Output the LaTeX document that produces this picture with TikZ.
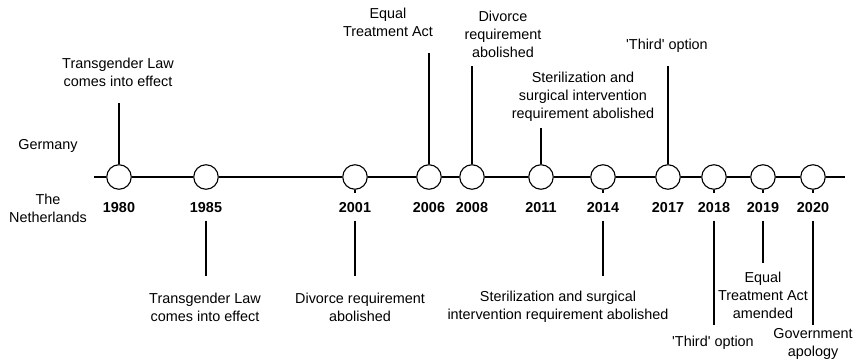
\documentclass[tikz,border=0pt]{standalone}
\usepackage{fontspec}
\setmainfont{Liberation Sans}
\newcommand{\tlfont}{\fontsize{14.4}{18}\selectfont}
\begin{document}
\begin{tikzpicture}[x=1pt, y=-1pt, line width=1.1pt,
    yr/.style={circle, draw, fill=white, minimum size=24.5pt, inner sep=0pt},
    yrlabel/.style={font=\tlfont\bfseries, text height=10.5pt, text depth=0pt, inner xsep=2pt, inner ysep=7.75pt},
    txt/.style={font=\tlfont, align=center, inner sep=0pt}]
    \useasboundingbox (0,0) rectangle (855,364);
    % axis ends
    \coordinate (axl) at (94,177);
    \coordinate (axr) at (845,177);
    % year circles
    \node[yr] (c1980) at (119,177) {};
    \node[yr] (c1985) at (206,177) {};
    \node[yr] (c2001) at (355,177) {};
    \node[yr] (c2006) at (429,177) {};
    \node[yr] (c2008) at (472,177) {};
    \node[yr] (c2011) at (541,177) {};
    \node[yr] (c2014) at (603,177) {};
    \node[yr] (c2017) at (668,177) {};
    \node[yr] (c2018) at (714,177) {};
    \node[yr] (c2019) at (763,177) {};
    \node[yr] (c2020) at (813,177) {};
    \draw (axl) -- (c1980) -- (c1985) -- (c2001) -- (c2006) -- (c2008) -- (c2011)
        -- (c2014) -- (c2017) -- (c2018) -- (c2019) -- (c2020) -- (axr);
    % year labels
    \node[yrlabel] (y1980) at (119,207) {1980};
    \node[yrlabel] (y1985) at (206,207) {1985};
    \node[yrlabel] (y2001) at (355,207) {2001};
    \node[yrlabel] (y2006) at (429,207) {2006};
    \node[yrlabel] (y2008) at (472,207) {2008};
    \node[yrlabel] (y2011) at (541,207) {2011};
    \node[yrlabel] (y2014) at (603,207) {2014};
    \node[yrlabel] (y2017) at (668,207) {2017};
    \node[yrlabel] (y2018) at (714,207) {2018};
    \node[yrlabel] (y2019) at (763,207) {2019};
    \node[yrlabel] (y2020) at (813,207) {2020};
    % countries
    \node[txt] (germany) at (48,146) {Germany};
    \node[txt] (nl) at (48,208) {The\\Netherlands};
    % Germany events
    \node[txt] (g1980) at (118,72) {Transgender Law\\comes into effect};
    \node[txt] (g2006) at (388,22) {Equal\\Treatment Act};
    \node[txt] (g2008) at (503,34) {Divorce\\requirement\\abolished};
    \node[txt] (g2011) at (583,97) {Sterilization and\\surgical intervention\\requirement abolished};
    \node[txt] (g2017) at (667,46) {\textquotesingle Third\textquotesingle\ option};
    \coordinate (s1980) at (119,103);
    \coordinate (s2006) at (429,53);
    \coordinate (s2008) at (472,66);
    \coordinate (s2011) at (541,128);
    \coordinate (s2017) at (668,66);
    \draw (c1980) -- (s1980);
    \draw (c2006) -- (s2006);
    \draw (c2008) -- (s2008);
    \draw (c2011) -- (s2011);
    \draw (c2017) -- (s2017);
    % Netherlands events
    \node[txt] (n1985) at (205,307) {Transgender Law\\comes into effect};
    \node[txt] (n2001) at (360,307) {Divorce requirement\\abolished};
    \node[txt] (n2014) at (558,307) {Sterilization and surgical\\intervention requirement abolished};
    \node[txt] (n2018) at (713,343) {\textquotesingle Third\textquotesingle\ option};
    \node[txt] (n2019) at (763,295) {Equal\\Treatment Act\\amended};
    \node[txt] (n2020) at (813,344) {Government\\apology};
    \coordinate (e1985) at (206,276);
    \coordinate (e2001) at (355,276);
    \coordinate (e2014) at (603,276);
    \coordinate (e2018) at (714,325);
    \coordinate (e2019) at (763,263);
    \coordinate (e2020) at (813,325);
    \draw (c2001) -- (y2001);
    \draw (c2014) -- (y2014);
    \draw (c2018) -- (y2018);
    \draw (c2019) -- (y2019);
    \draw (c2020) -- (y2020);
    \draw (y1985) -- (e1985);
    \draw (y2001) -- (e2001);
    \draw (y2014) -- (e2014);
    \draw (y2018) -- (e2018);
    \draw (y2019) -- (e2019);
    \draw (y2020) -- (e2020);
\end{tikzpicture}
\end{document}
